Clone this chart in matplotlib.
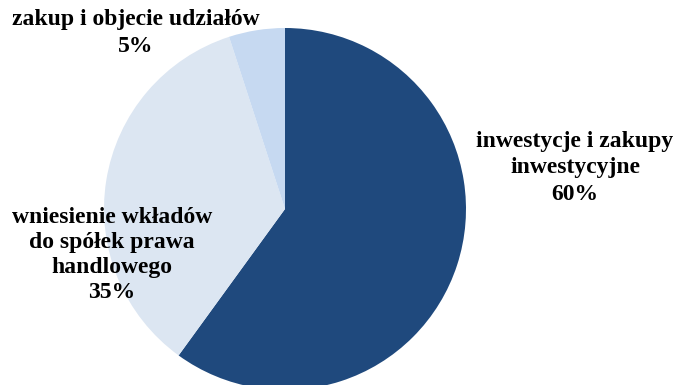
import matplotlib
matplotlib.use('Agg')
import matplotlib.pyplot as plt

plt.rcParams['font.family'] = ['Liberation Serif', 'DejaVu Serif']

# data
labels = ['inwestycje i zakupy\ninwestycyjne',
          'wniesienie wkładów\ndo spółek prawa\nhandlowego',
          'zakup i objecie udziałów']
values = [60, 35, 5]
colors = ['#1F497D', '#DCE6F2', '#C6D9F1']

W, H = 675, 385
fig = plt.figure(figsize=(W / 100, H / 100), dpi=100)

# pie centre and radius in pixels
cx, cy, r = 285, 209, 181
ax = fig.add_axes([(cx - r) / W, (H - cy - r) / H, 2 * r / W, 2 * r / H])
ax.pie(values, colors=colors, startangle=90, counterclock=False,
       radius=1, wedgeprops=dict(linewidth=0))
ax.set_xlim(-1, 1)
ax.set_ylim(-1, 1)
ax.set_aspect('auto')
ax.axis('off')

# label positions (pixel centres) and line spacing
label_pos = [(575, 168), (112, 255), (136, 33)]
spacing = [1.32, 1.27, 1.4]
for lab, v, (x, y), ls in zip(labels, values, label_pos, spacing):
    fig.text(x / W, 1 - y / H, f'{lab}\n{v}%', ha='center', va='center',
             fontsize=17, fontweight='bold', color='black', linespacing=ls)

fig.savefig('out.png', dpi=100)
